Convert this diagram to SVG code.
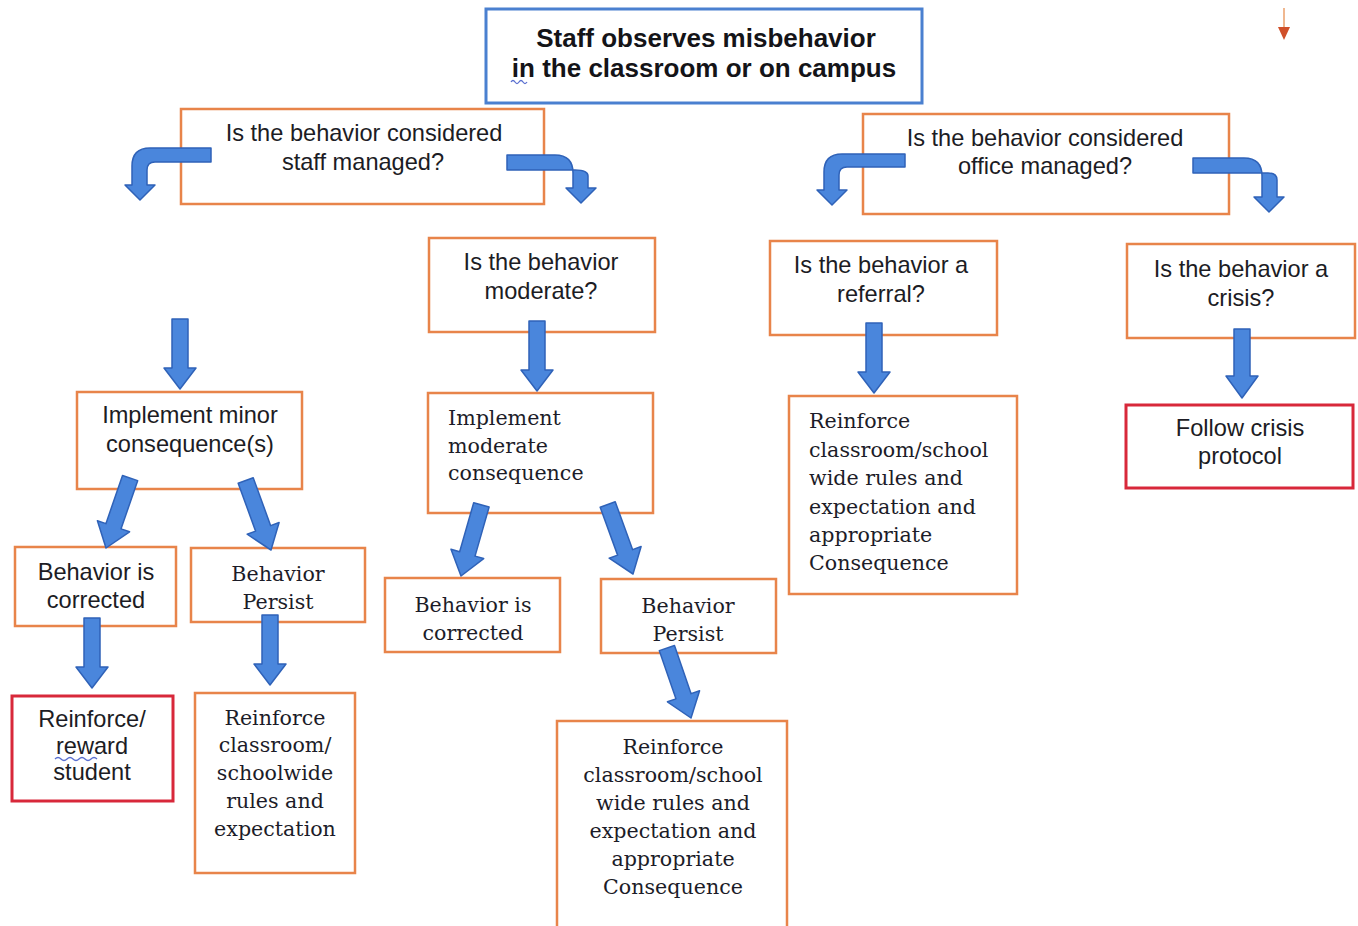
<svg xmlns="http://www.w3.org/2000/svg" width="1358" height="926" viewBox="0 0 1358 926">
<style>
.bg{fill:#ffffff}
.box{fill:#ffffff;stroke:#E8844A;stroke-width:2.5}
.red{fill:#ffffff;stroke:#D8283A;stroke-width:3}
.blue{fill:#ffffff;stroke:#4A80D0;stroke-width:3}
.s{font-family:"Liberation Sans",Arial,sans-serif;font-size:23.6px;fill:#1c1c24;text-anchor:middle}
.b{font-family:"Liberation Sans",Arial,sans-serif;font-size:26px;font-weight:bold;fill:#141418;text-anchor:middle}
.r{font-family:"DejaVu Serif","Liberation Serif",serif;font-size:20.6px;fill:#1c1c28;text-anchor:middle}
.rl{font-family:"DejaVu Serif","Liberation Serif",serif;font-size:20.6px;fill:#1c1c28;text-anchor:start}
.arr{fill:#4A86DC;stroke:#2F62B8;stroke-width:1.5;stroke-linejoin:round}
.sq{fill:none;stroke:#5A6FD0;stroke-width:1.3}
</style>
<defs>
<path id="dn" d="M -8 -70 L 8 -70 L 8 -21 L 16 -21 L 0 0 L -16 -21 L -8 -21 Z"/>
<path id="dg" d="M -8 -74 L 8 -74 L 8 -23 L 17 -23 L 0 0 L -17 -23 L -8 -23 Z"/>
</defs>
<rect class="bg" x="0" y="0" width="1358" height="926"/>

<g id="n-start">
  <rect class="blue" x="486" y="9" width="436" height="94"/>
  <text class="b" x="706" y="47">Staff observes misbehavior</text>
  <text class="b" x="704" y="77">in the classroom or on campus</text>
  <path class="sq" d="M 511 82 q 2 -3 4 0 t 4 0 t 4 0 t 4 0"/>
</g>

<g id="n-staff">
  <rect class="box" x="181" y="109" width="363" height="95"/>
  <text class="s" x="364" y="141">Is the behavior considered</text>
  <text class="s" x="363" y="170">staff managed?</text>
</g>

<g id="n-office">
  <rect class="box" x="863" y="114" width="366" height="100"/>
  <text class="s" x="1045" y="146">Is the behavior considered</text>
  <text class="s" x="1045" y="174">office managed?</text>
</g>

<g id="n-moderate">
  <rect class="box" x="429" y="238" width="226" height="94"/>
  <text class="s" x="541" y="270">Is the behavior</text>
  <text class="s" x="541" y="299">moderate?</text>
</g>

<g id="n-referral">
  <rect class="box" x="770" y="241" width="227" height="94"/>
  <text class="s" x="881" y="273">Is the behavior a</text>
  <text class="s" x="881" y="302">referral?</text>
</g>

<g id="n-crisis">
  <rect class="box" x="1127" y="244" width="228" height="94"/>
  <text class="s" x="1241" y="277">Is the behavior a</text>
  <text class="s" x="1241" y="306">crisis?</text>
</g>

<g id="n-minor">
  <rect class="box" x="77" y="392" width="225" height="97"/>
  <text class="s" x="190" y="423">Implement minor</text>
  <text class="s" x="190" y="452">consequence(s)</text>
</g>

<g id="n-impl-moderate">
  <rect class="box" x="428" y="393" width="225" height="120"/>
  <text class="rl" x="448" y="425">Implement</text>
  <text class="rl" x="448" y="453">moderate</text>
  <text class="rl" x="448" y="480">consequence</text>
</g>

<g id="n-referral-reinforce">
  <rect class="box" x="789" y="396" width="228" height="198"/>
  <text class="rl" x="809" y="428">Reinforce</text>
  <text class="rl" x="809" y="457">classroom/school</text>
  <text class="rl" x="809" y="485">wide rules and</text>
  <text class="rl" x="809" y="514">expectation and</text>
  <text class="rl" x="809" y="542">appropriate</text>
  <text class="rl" x="809" y="570">Consequence</text>
</g>

<g id="n-follow-crisis">
  <rect class="red" x="1126" y="405" width="227" height="83"/>
  <text class="s" x="1240" y="436">Follow crisis</text>
  <text class="s" x="1240" y="464">protocol</text>
</g>

<g id="n-minor-corrected">
  <rect class="box" x="15" y="547" width="161" height="79"/>
  <text class="s" x="96" y="580">Behavior is</text>
  <text class="s" x="96" y="608">corrected</text>
</g>

<g id="n-minor-persist">
  <rect class="box" x="191" y="548" width="174" height="74"/>
  <text class="r" x="278" y="581">Behavior</text>
  <text class="r" x="278" y="609">Persist</text>
</g>

<g id="n-reward">
  <rect class="red" x="12" y="696" width="161" height="105"/>
  <text class="s" x="92" y="727">Reinforce/</text>
  <text class="s" x="92" y="754">reward</text>
  <text class="s" x="92" y="780">student</text>
  <path class="sq" d="M 55 759 q 3 -3 6 0 t 6 0 t 6 0 t 6 0 t 6 0 t 6 0 t 6 0"/>
</g>

<g id="n-minor-reinforce">
  <rect class="box" x="195" y="693" width="160" height="180"/>
  <text class="r" x="275" y="725">Reinforce</text>
  <text class="r" x="275" y="752">classroom/</text>
  <text class="r" x="275" y="780">schoolwide</text>
  <text class="r" x="275" y="808">rules and</text>
  <text class="r" x="275" y="836">expectation</text>
</g>

<g id="n-mod-corrected">
  <rect class="box" x="385" y="578" width="175" height="74"/>
  <text class="r" x="473" y="612">Behavior is</text>
  <text class="r" x="473" y="640">corrected</text>
</g>

<g id="n-mod-persist">
  <rect class="box" x="601" y="579" width="175" height="74"/>
  <text class="r" x="688" y="613">Behavior</text>
  <text class="r" x="688" y="641">Persist</text>
</g>

<g id="n-mod-reinforce">
  <rect class="box" x="557" y="721" width="230" height="220"/>
  <text class="r" x="673" y="754">Reinforce</text>
  <text class="r" x="673" y="782">classroom/school</text>
  <text class="r" x="673" y="810">wide rules and</text>
  <text class="r" x="673" y="838">expectation and</text>
  <text class="r" x="673" y="866">appropriate</text>
  <text class="r" x="673" y="894">Consequence</text>
</g>

<g id="connectors">
  <path class="arr" d="M 211 148 L 150 148 Q 132 148 132 166 L 132 185 L 125 185 L 140 200 L 155 185 L 147 185 L 147 170 Q 147 162 155 162 L 211 162 Z"/>
  <path class="arr" d="M 507 155 L 555 155 Q 573 155 573 173 L 573 188 L 566 188 L 581 203 L 596 188 L 588 188 L 588 176 Q 588 170 575 170 L 507 170 Z"/>
  <path class="arr" d="M 905 154 L 842 154 Q 824 154 824 172 L 824 190 L 817 190 L 832 205 L 847 190 L 839 190 L 839 175 Q 839 167 847 167 L 905 167 Z"/>
  <path class="arr" d="M 1193 158 L 1244 158 Q 1262 158 1262 176 L 1262 197 L 1254 197 L 1269 212 L 1284 197 L 1277 197 L 1277 180 Q 1277 173 1268 173 L 1193 173 Z"/>
  <use href="#dn" class="arr" transform="translate(180 389)"/>
  <use href="#dn" class="arr" transform="translate(537 391)"/>
  <use href="#dn" class="arr" transform="translate(874 393)"/>
  <path class="arr" d="M 1234 329 L 1250 329 L 1250 376 L 1258 376 L 1242 398 L 1226 376 L 1234 376 Z"/>
  <use href="#dn" class="arr" transform="translate(92 688)"/>
  <use href="#dn" class="arr" transform="translate(270 685)"/>
  <use href="#dg" class="arr" transform="translate(106 548) rotate(19)"/>
  <use href="#dg" class="arr" transform="translate(271 550) rotate(-20)"/>
  <use href="#dg" class="arr" transform="translate(461 576) rotate(16)"/>
  <use href="#dg" class="arr" transform="translate(633 574) rotate(-20)"/>
  <use href="#dg" class="arr" transform="translate(691 718) rotate(-19)"/>
  <line x1="1284" y1="8" x2="1284" y2="28" stroke="#F0B890" stroke-width="2"/>
  <path d="M 1278 27 L 1290 27 L 1284 40 Z" fill="#D0502A"/>
</g>
</svg>
